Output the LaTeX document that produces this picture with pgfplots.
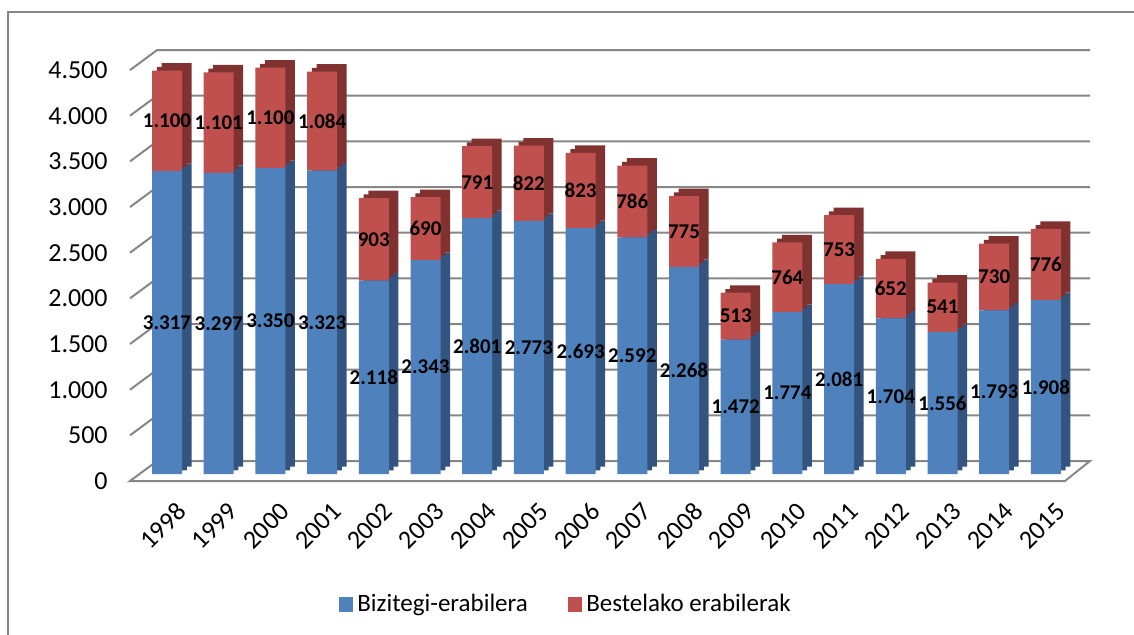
\documentclass[border=0pt]{standalone}
\usepackage{fontspec}
\setmainfont{Carlito}
\usepackage{pgfplots}
\pgfplotsset{compat=1.18}
\usepackage{pgfplotstable}

\definecolor{fblue}{RGB}{79,129,189}
\definecolor{fred}{RGB}{192,80,77}
\definecolor{sblue}{RGB}{52,84,128}
\definecolor{sred}{RGB}{128,50,48}
\definecolor{gridc}{RGB}{134,134,134}

\pgfplotstableread{
x year blue red
0 1998 3317 1100
1 1999 3297 1101
2 2000 3350 1100
3 2001 3323 1084
4 2002 2118 903
5 2003 2343 690
6 2004 2801 791
7 2005 2773 822
8 2006 2693 823
9 2007 2592 786
10 2008 2268 775
11 2009 1472 513
12 2010 1774 764
13 2011 2081 753
14 2012 1704 652
15 2013 1556 541
16 2014 1793 730
17 2015 1908 776
}\datatable

\pgfplotsset{base/.style={
  at={(65pt,76.5pt)}, anchor=south west, scale only axis,
  width=480pt, height=220.5pt,
  xmin=-0.716, xmax=17.853, ymin=-76.7, ymax=4753, clip=false,
}}

\begin{document}
\begin{tikzpicture}
\useasboundingbox (0,0) rectangle (567pt,317pt);
\fill[white] (0,0) rectangle (567pt,317pt);
\draw[gridc, line width=1pt] (4pt,-5pt) -- (4pt,311pt) -- (575pt,311pt);

% floor and back wall grid
\begin{axis}[base, hide axis]
\fill[white] (axis cs:-0.716,-76.7) -- (axis cs:17.369,-76.7) -- (axis cs:17.853,142.4) -- (axis cs:-0.193,142.4) -- cycle;
\draw[gridc, line width=1pt] (axis cs:-0.716,-76.7) -- (axis cs:17.369,-76.7) -- (axis cs:17.853,142.4) -- (axis cs:-0.193,142.4) -- cycle;
\draw[gridc, line width=1pt] (axis cs:-0.716,423.3) -- (axis cs:-0.193,642.4) -- (axis cs:17.853,642.4);
\draw[gridc, line width=1pt] (axis cs:-0.716,923.3) -- (axis cs:-0.193,1142.4) -- (axis cs:17.853,1142.4);
\draw[gridc, line width=1pt] (axis cs:-0.716,1423.3) -- (axis cs:-0.193,1642.4) -- (axis cs:17.853,1642.4);
\draw[gridc, line width=1pt] (axis cs:-0.716,1923.3) -- (axis cs:-0.193,2142.4) -- (axis cs:17.853,2142.4);
\draw[gridc, line width=1pt] (axis cs:-0.716,2423.3) -- (axis cs:-0.193,2642.4) -- (axis cs:17.853,2642.4);
\draw[gridc, line width=1pt] (axis cs:-0.716,2923.3) -- (axis cs:-0.193,3142.4) -- (axis cs:17.853,3142.4);
\draw[gridc, line width=1pt] (axis cs:-0.716,3423.3) -- (axis cs:-0.193,3642.4) -- (axis cs:17.853,3642.4);
\draw[gridc, line width=1pt] (axis cs:-0.716,3923.3) -- (axis cs:-0.193,4142.4) -- (axis cs:17.853,4142.4);
\draw[gridc, line width=1pt] (axis cs:-0.716,4423.3) -- (axis cs:-0.193,4642.4) -- (axis cs:17.853,4642.4);
\addplot[draw=none, mark=none] coordinates {(0,0)};
\end{axis}

% side faces (full depth)
\begin{axis}[base, hide axis, ybar stacked, bar width=0.58, bar shift=0.1838]
\addplot[draw=none, fill=none, bar shift=0.1838] table[x=x, y expr=82]{\datatable};
\addplot[draw=none, fill=sblue, bar shift=0.1838] table[x=x, y=blue]{\datatable};
\addplot[draw=none, fill=sred, bar shift=0.1838] table[x=x, y=red]{\datatable};
\end{axis}

% side faces (half depth)
\begin{axis}[base, hide axis, ybar stacked, bar width=0.58, bar shift=0.0919]
\addplot[draw=none, fill=none, bar shift=0.0919] table[x=x, y expr=41]{\datatable};
\addplot[draw=none, fill=sblue, bar shift=0.0919] table[x=x, y=blue]{\datatable};
\addplot[draw=none, fill=sred, bar shift=0.0919] table[x=x, y=red]{\datatable};
\end{axis}

% front faces, ticks, legend
\begin{axis}[base, ybar stacked, bar width=0.58, bar shift=0,
  axis line style={draw=none}, major tick length=0pt,
  xtick={0,1,...,17},
  xticklabels={1998,1999,2000,2001,2002,2003,2004,2005,2006,2007,2008,2009,2010,2011,2012,2013,2014,2015},
  xticklabel style={rotate=45, anchor=east, inner sep=0pt, yshift=-14.5pt, xshift=-4pt},
  ytick={-76.7,423.3,923.3,1423.3,1923.3,2423.3,2923.3,3423.3,3923.3,4423.3},
  yticklabels={0,500,1.000,1.500,2.000,2.500,3.000,3.500,4.000,4.500},
  yticklabel style={anchor=east, inner sep=0pt, xshift=-11pt},
  tick label style={font=\fontsize{13}{15}\selectfont},
  legend style={at={(0.455,-0.28)}, anchor=center, draw=none, fill=none,
    legend columns=2, font=\fontsize{12.5}{15}\selectfont,
    /tikz/every even column/.append style={column sep=18pt}},
]
\addplot[draw=none, fill=fblue, bar shift=0,
  legend image code/.code={\fill[fblue] (0pt,-3.6pt) rectangle (7.2pt,3.6pt);}]
  table[x=x, y=blue]{\datatable};
\addplot[draw=none, fill=fred, bar shift=0,
  legend image code/.code={\fill[fred] (0pt,-3.6pt) rectangle (7.2pt,3.6pt);}]
  table[x=x, y=red]{\datatable};
\legend{Bizitegi-erabilera, Bestelako erabilerak}
\end{axis}

% data labels
\begin{axis}[base, hide axis,
  /pgf/number format/.cd, 1000 sep={.}, assume math mode=true, /pgfplots/.cd,
  nodes near coords={\pgfmathprintnumber{\pgfplotspointmeta}},
  nodes near coords align=center,
  every node near coord/.append style={font=\bfseries\fontsize{10.5}{12}\selectfont, text=black, inner sep=0pt},
]
\addplot[draw=none, mark=none, point meta=explicit] table[x=x, y expr=\thisrow{blue}/2, meta=blue]{\datatable};
\addplot[draw=none, mark=none, point meta=explicit] table[x=x, y expr=\thisrow{blue}+\thisrow{red}/2, meta=red]{\datatable};
\end{axis}
\end{tikzpicture}
\end{document}
